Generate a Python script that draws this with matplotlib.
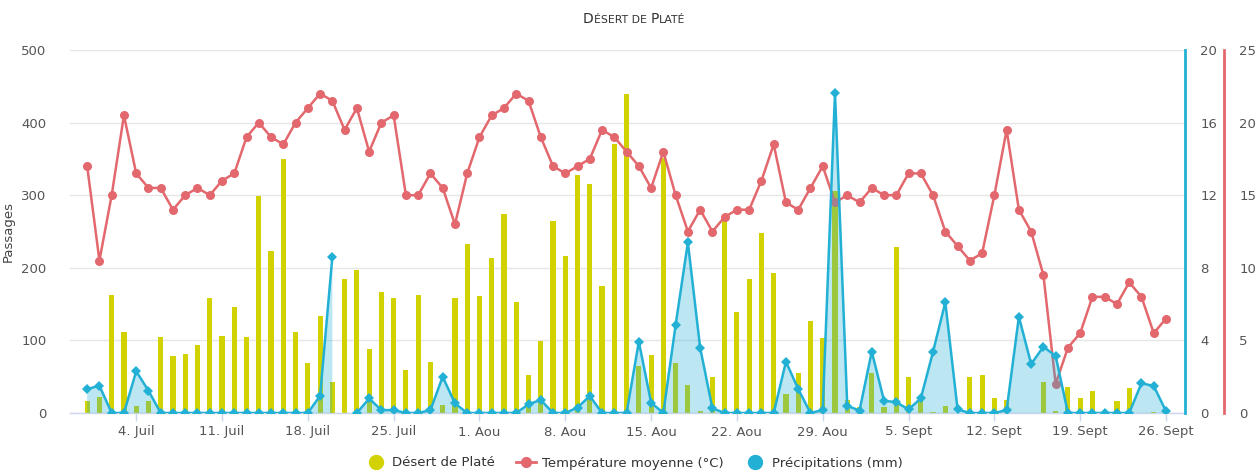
import matplotlib
matplotlib.use('Agg')
import matplotlib.pyplot as plt
import matplotlib.dates as mdates
from matplotlib.lines import Line2D
import numpy as np
import pandas as pd

# ---------------- data ----------------
dates = pd.date_range('2021-06-30', '2021-09-26', freq='D')

passages = [17, 22.5, 162, 111, 9.6, 17, 105, 78.5, 81, 93,
            158, 106.5, 146, 105, 299, 223, 350, 111, 68.4, 134,
            43, 185, 197, 88.6, 166, 159, 59, 162, 70.7, 11,
            159, 233, 161, 213.5, 274, 153, 52, 99, 265, 216,
            328, 315, 175.4, 370.5, 440, 64.7, 80, 351, 68.4, 38.6,
            2.8, 49, 264.5, 139.6, 184, 247.5, 192.8, 25.7, 55, 126.7,
            103.8, 305.8, 17.9, 8.7, 55, 7.8, 228, 49, 17, 1.5,
            9.6, 0, 49, 52, 21, 18, 0, 0, 43, 2.8,
            36, 20, 30, 0, 17, 35, 0, 1.5, 0]

temperature = [17, 10.5, 15, 20.5, 16.5, 15.5, 15.5, 14, 15, 15.5,
               15, 16, 16.5, 19, 20, 19, 18.5, 20, 21, 22,
               21.5, 19.5, 21, 18, 20, 20.5, 15, 15, 16.5, 15.5,
               13, 16.5, 19, 20.5, 21, 22, 21.5, 19, 17, 16.5,
               17, 17.5, 19.5, 19, 18, 17, 15.5, 18, 15, 12.5,
               14, 12.5, 13.5, 14, 14, 16, 18.5, 14.5, 14, 15.5,
               17, 14.5, 15, 14.5, 15.5, 15, 15, 16.5, 16.5, 15,
               12.5, 11.5, 10.5, 11, 15, 19.5, 14, 12.5, 9.5, 2.0,
               4.5, 5.5, 8, 8, 7.5, 9, 8, 5.5, 6.5]

precipitation = [1.32, 1.5, 0, 0, 2.3, 1.23, 0, 0, 0, 0,
                 0, 0, 0, 0, 0, 0, 0, 0, 0, 0.95,
                 8.6, None, 0, 0.8, 0.16, 0.16, 0, 0, 0.16, 2.0,
                 0.53, 0, 0, 0, 0, 0, 0.48, 0.72, 0, 0,
                 0.3, 0.94, 0, 0, 0, 3.93, 0.57, 0, 4.85, 9.4,
                 3.6, 0.26, 0, 0, 0, 0, 0, 2.83, 1.32, 0,
                 0.16, 17.65, 0.4, 0.13, 3.38, 0.68, 0.59, 0.2, 0.8, 3.38,
                 6.1, 0.2, 0, 0, 0, 0.16, 5.3, 2.7, 3.65, 3.14,
                 0, 0, 0, 0, 0, 0, 1.64, 1.49, 0.1]

tick_dates = pd.date_range('2021-07-04', '2021-09-26', freq='7D')
tick_labels = ['4. Juil', '11. Juil', '18. Juil', '25. Juil', '1. Aou', '8. Aou',
               '15. Aou', '22. Aou', '29. Aou', '5. Sept', '12. Sept',
               '19. Sept', '26. Sept']

series_names = ['Désert de Platé', 'Température moyenne (°C)', 'Précipitations (mm)']
title_text = 'Désert de Platé'
ylabel_text = 'Passages'

# ---------------- style ----------------
FONT = ['DejaVu Sans']
plt.rcParams['font.family'] = FONT
C_BAR = '#d2d200'
C_TEMP = '#e3686e'
C_PREC = '#22b0d4'
C_TXT = '#555555'
C_GRID = '#e6e6e6'
C_XAX = '#ccd6eb'

W, H = 1258, 472
fig = plt.figure(figsize=(W / 100, H / 100), dpi=100)
L, R, T, B = 70, 1185, 50, 413
ax = fig.add_axes([L / W, (H - B) / H, (R - L) / W, (B - T) / H])

x = mdates.date2num(dates)
prec = np.array([np.nan if v is None else v for v in precipitation], dtype=float)

# bars
ax.bar(x, passages, width=0.42, color=C_BAR, zorder=2, linewidth=0)
ax.set_ylim(0, 500)
ax.set_yticks(range(0, 501, 100))
ax.grid(axis='y', color=C_GRID, linewidth=1, zorder=0)
ax.set_axisbelow(True)
ax.set_xlim(x[0] - 1.4, x[-1] + 1.55)
ax.set_xticks(mdates.date2num(tick_dates))
ax.set_xticklabels(tick_labels)
for s in ['left', 'right', 'top']:
    ax.spines[s].set_visible(False)
ax.spines['bottom'].set_color(C_XAX)
ax.spines['bottom'].set_linewidth(1)
ax.tick_params(axis='x', length=6, width=1, color=C_XAX, labelsize=9.5,
               labelcolor=C_TXT, pad=3)
ax.tick_params(axis='y', length=0, labelsize=9.5, labelcolor=C_TXT, pad=17)
ax.set_ylabel(ylabel_text, fontsize=9.5, color='#444444')
ax.yaxis.set_label_coords((15 - L) / (R - L), 0.5)

# temperature axis
axt = ax.twinx()
axt.set_ylim(0, 25)
axt.set_yticks(range(0, 26, 5))
axt.plot(x, temperature, color=C_TEMP, lw=1.8, marker='o', markersize=6.5,
         markeredgewidth=0, zorder=3)
for s in ['left', 'top', 'bottom']:
    axt.spines[s].set_visible(False)
axt.spines['right'].set_position(('axes', 1.0350))
axt.spines['right'].set_color(C_TEMP)
axt.spines['right'].set_linewidth(2)
axt.tick_params(axis='y', length=0, labelsize=9.5, labelcolor=C_TXT, pad=11)
axt.set_xlim(ax.get_xlim())

# precipitation axis
axp = ax.twinx()
axp.set_ylim(0, 20)
axp.set_yticks(range(0, 21, 4))
valid = ~np.isnan(prec)
axp.fill_between(x, 0, np.where(valid, prec, 0), where=valid, color=C_PREC,
                 alpha=0.3, linewidth=0, zorder=2, interpolate=False)
axp.plot(x, prec, color=C_PREC, lw=1.8, marker='D', markersize=5,
         markeredgewidth=0, zorder=3)
for s in ['left', 'top', 'bottom']:
    axp.spines[s].set_visible(False)
axp.spines['right'].set_color(C_PREC)
axp.spines['right'].set_linewidth(2)
axp.tick_params(axis='y', length=0, labelsize=9.5, labelcolor=C_TXT, pad=11)
axp.set_xlim(ax.get_xlim())

# legend
handles = [
    Line2D([], [], marker='o', linestyle='', color=C_BAR, markersize=10),
    Line2D([], [], marker='o', linestyle='-', color=C_TEMP, markersize=7, lw=2),
    Line2D([], [], marker='o', linestyle='', color=C_PREC, markersize=10),
]
fig.legend(handles, series_names, loc='center', bbox_to_anchor=(634 / W, 9 / H),
           ncol=3, frameon=False, fontsize=9.5, labelcolor='#333333',
           handlelength=1.5, handletextpad=0.5, columnspacing=1.6)

# small-caps title
fig.canvas.draw()
renderer = fig.canvas.get_renderer()
big, small = 10, 7.8
pieces = []
for ch in title_text:
    if ch.isupper():
        pieces.append((ch, big))
    else:
        pieces.append((ch.upper(), small))
merged = []
for txt, sz in pieces:
    if merged and merged[-1][1] == sz:
        merged[-1] = (merged[-1][0] + txt, sz)
    else:
        merged.append((txt, sz))
texts = []
widths = []
for txt, sz in merged:
    t = fig.text(0, 0, txt, fontsize=sz, color='#333333', va='baseline', ha='left')
    bb = t.get_window_extent(renderer)
    texts.append(t)
    widths.append(bb.width)
total = sum(widths)
x0 = 634 - total / 2
base_y = H - 23
for t, w in zip(texts, widths):
    t.set_position((x0 / W, base_y / H))
    x0 += w

fig.savefig('out.png', dpi=100)
